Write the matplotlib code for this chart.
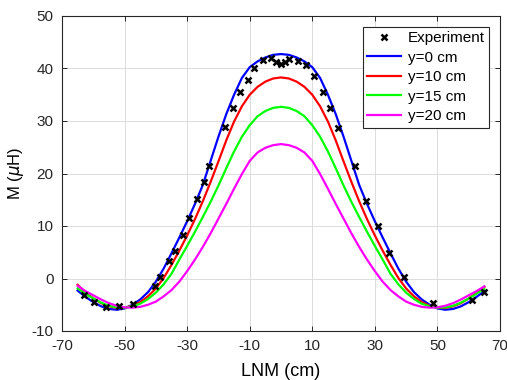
import numpy as np
import matplotlib
matplotlib.use('Agg')
import matplotlib.pyplot as plt

plt.rcParams['font.family'] = ['Liberation Sans', 'DejaVu Sans']
plt.rcParams['mathtext.fontset'] = 'dejavusans'
plt.rcParams['axes.unicode_minus'] = False

# lateral offset (cm), sampled every 2.5 cm
lnm = np.arange(-65, 65.01, 2.5)

# simulated mutual inductance (uH)
m_y0 = [-2.3, -3.5, -4.5, -5.3, -5.8, -5.95, -5.7, -5.0, -4.0, -2.6, -0.6, 1.9, 4.8,
        7.8, 10.9, 14.2, 17.8, 22.4, 27.0, 31.3, 35.0, 38.2, 40.25, 41.35, 42.1, 42.6,
        42.75,
        42.6, 42.1, 41.35, 40.25, 38.2, 35.0, 31.3, 27.0, 22.4, 17.8, 14.2, 10.9, 7.8,
        4.8, 1.9, -0.6, -2.6, -4.0, -5.0, -5.7, -5.95, -5.8, -5.3, -4.5, -3.5, -2.4]
m_y10 = [-1.2, -2.7, -3.8, -4.7, -5.3, -5.6, -5.55, -5.2, -4.5, -3.4, -1.9, 0.1, 2.6,
         5.3, 8.2, 11.3, 14.7, 18.4, 22.3, 26.3, 29.9, 32.8, 35.0, 36.5, 37.5, 38.1,
         38.3,
         38.1, 37.5, 36.5, 35.0, 32.8, 29.9, 26.3, 22.3, 18.4, 14.7, 11.3, 8.2, 5.3,
         2.6, 0.1, -1.9, -3.4, -4.5, -5.2, -5.55, -5.6, -5.3, -4.7, -3.8, -2.7, -1.6]
m_y15 = [-1.9, -2.9, -3.8, -4.6, -5.2, -5.5, -5.55, -5.3, -4.8, -3.9, -2.7, -1.1, 0.9,
         3.6, 6.2, 8.9, 11.7, 14.6, 17.7, 21.0, 24.2, 27.0, 29.2, 30.9, 31.9, 32.5,
         32.7,
         32.5, 31.9, 30.9, 29.2, 27.0, 24.2, 21.0, 17.7, 14.6, 11.7, 8.9, 6.2, 3.6,
         0.9, -1.1, -2.7, -3.9, -4.8, -5.3, -5.55, -5.5, -5.2, -4.6, -3.8, -2.9, -2.0]
m_y20 = [-1.4, -2.4, -3.2, -4.0, -4.7, -5.2, -5.5, -5.55, -5.4, -5.0, -4.4, -3.4, -2.2,
         -0.6, 1.4, 3.6, 6.0, 8.6, 11.4, 14.2, 17.1, 19.9, 22.4, 24.0, 24.9, 25.4,
         25.6,
         25.4, 24.9, 24.0, 22.4, 19.9, 17.1, 14.2, 11.4, 8.6, 6.0, 3.6, 1.4, -0.6,
         -2.2, -3.4, -4.4, -5.0, -5.4, -5.55, -5.5, -5.2, -4.7, -4.0, -3.2, -2.4, -1.5]

# measured points
exp_x = [-63.1, -59.7, -55.9, -51.9, -47.3, -40.4, -38.6, -35.7, -33.8, -31.3, -29.4,
         -26.9, -24.5, -22.9, -17.9, -15.5, -13.2, -10.6, -8.7, -5.6, -3.1, -1.6, -0.1,
         1.3, 2.4, 5.4, 7.9, 10.7, 13.3, 15.6, 18.3, 23.5, 27.3, 31.0, 34.5, 39.3, 48.6,
         61.2, 64.9]
exp_m = [-3.1, -4.4, -5.4, -5.2, -4.8, -1.4, 0.2, 3.3, 5.2, 8.3, 11.5,
         15.1, 18.3, 21.4, 28.8, 32.4, 35.5, 37.8, 40.0, 41.7, 42.0, 41.25, 40.85,
         41.3, 41.9, 41.5, 40.6, 38.5, 35.5, 32.4, 28.6, 21.4, 14.8, 10.0, 4.9, 0.2, -4.65,
         -4.1, -2.6]

fig = plt.figure(figsize=(5.07, 3.80), dpi=100)
ax = fig.add_axes([62 / 507, 49 / 380, 438 / 507, 315 / 380])

ax.plot(exp_x, exp_m, 'kx', ms=4.5, mew=1.8, label='Experiment', zorder=5)
ax.plot(lnm, m_y0, color=(0, 0, 1), lw=1.6, label='y=0 cm')
ax.plot(lnm, m_y10, color=(1, 0, 0), lw=1.6, label='y=10 cm')
ax.plot(lnm, m_y15, color=(0, 1, 0), lw=1.6, label='y=15 cm')
ax.plot(lnm, m_y20, color=(1, 0, 1), lw=1.6, label='y=20 cm')

ax.set_xlim(-70, 70)
ax.set_ylim(-10, 50)
ax.set_xticks([-70, -50, -30, -10, 10, 30, 50, 70])
ax.set_yticks(range(-10, 51, 10))
ax.grid(True, color='#dcdcdc', lw=0.7)
ax.set_axisbelow(True)
ax.tick_params(direction='in', top=True, right=True, length=3.5, width=0.7,
               labelsize=11, colors='#262626', pad=6)
for s in ax.spines.values():
    s.set_color('#262626')
    s.set_linewidth(0.8)

ax.set_xlabel('LNM (cm)', fontsize=13, labelpad=7)
ax.set_ylabel(r'M ($\mu$H)', fontsize=12, labelpad=4)

leg = ax.legend(loc='upper right', fontsize=11, fancybox=False, framealpha=1,
                edgecolor='#262626', labelspacing=0.36, handlelength=2.2,
                handletextpad=0.45, borderpad=0.3, borderaxespad=0.7)
leg.get_frame().set_linewidth(0.8)

fig.savefig('out.png', dpi=100)
